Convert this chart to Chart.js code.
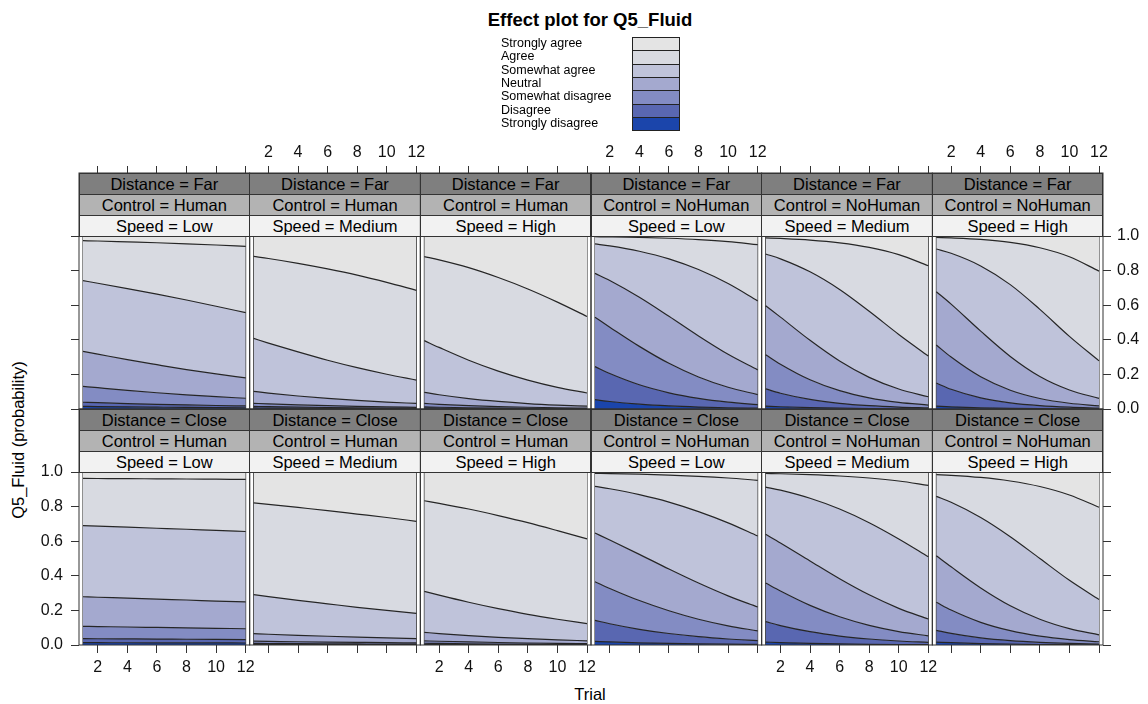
<!DOCTYPE html>
<html>
<head>
<meta charset="utf-8">
<title>Effect plot for Q5_Fluid</title>
<script src="https://cdn.jsdelivr.net/npm/chart.js@4.4.1/dist/chart.umd.min.js"></script>
<style>
  html, body { margin: 0; padding: 0; background: #fff; }
  body { width: 1148px; height: 704px; position: relative; overflow: hidden;
         font-family: "Liberation Sans", Arial, sans-serif; color: #000; }
  canvas { position: absolute; left: 0; top: 0; }
  .strip { position: absolute; box-sizing: border-box; border: 1px solid #333;
           text-align: center; font-size: 16.5px; white-space: nowrap; overflow: hidden; }
  #title { position: absolute; left: 390px; width: 400px; top: 9px; line-height: 22px;
           text-align: center; font-weight: bold; font-size: 18.5px; }
  .legLabel { position: absolute; left: 501px; font-size: 12.5px; white-space: nowrap; }
  .legBox { position: absolute; left: 632px; width: 48px; box-sizing: border-box; border: 1px solid #222; }
  #ytitle { position: absolute; left: 18px; top: 440px; white-space: nowrap; font-size: 16.5px;
            transform: translate(-50%, -50%) rotate(-90deg); }
  #xtitle { position: absolute; left: 590px; top: 694px; font-size: 16.5px;
            transform: translate(-50%, -50%); }
</style>
</head>
<body>
<div id="title">Effect plot for Q5_Fluid</div>
<div id="ytitle">Q5_Fluid (probability)</div>
<div id="xtitle">Trial</div>
<script>
// ---- facets, levels and axis ticks ----
const trials = [1, 2, 4, 6, 8, 10, 12];
const xTicks = [2, 4, 6, 8, 10, 12];
const yTicks = [0, 0.2, 0.4, 0.6, 0.8, 1.0];
const distances = ['Far', 'Close'];
const controls = ['Human', 'NoHuman'];
const speeds = ['Low', 'Medium', 'High'];
// response levels, bottom band first
const levels = ['Strongly disagree', 'Disagree', 'Somewhat disagree', 'Neutral',
                'Somewhat agree', 'Agree', 'Strongly agree'];
const bandColors = ['#1b45ab', '#5967b1', '#838cc3', '#a4a9cf', '#bfc3da', '#d8dae1', '#e4e4e4'];

// cumulative probabilities P(response <= level) at each trial, one row per
// boundary (Strongly disagree ... Agree), for each Distance/Control/Speed panel
const farHumanLow = [
  [0.015, 0.0139, 0.012, 0.0104, 0.0089, 0.0077, 0.0066],
  [0.039, 0.0364, 0.0315, 0.0272, 0.0235, 0.0202, 0.0175],
  [0.131, 0.123, 0.1075, 0.094, 0.082, 0.0714, 0.062],
  [0.333, 0.317, 0.285, 0.256, 0.228, 0.203, 0.180],
  [0.742, 0.727, 0.696, 0.664, 0.630, 0.594, 0.557],
  [0.973, 0.971, 0.966, 0.961, 0.955, 0.948, 0.940]
];
const farHumanMedium = [
  [0.006, 0.0054, 0.0043, 0.0034, 0.0027, 0.0022, 0.0018],
  [0.015, 0.0134, 0.0108, 0.0086, 0.0069, 0.0055, 0.0044],
  [0.033, 0.0296, 0.0238, 0.019, 0.0153, 0.0123, 0.0099],
  [0.102, 0.0922, 0.075, 0.0609, 0.0493, 0.0398, 0.0321],
  [0.408, 0.381, 0.330, 0.282, 0.239, 0.201, 0.167],
  [0.882, 0.870, 0.842, 0.810, 0.774, 0.732, 0.686]
];
const farHumanHigh = [
  [0.005, 0.0042, 0.003, 0.0022, 0.0015, 0.0011, 0.0008],
  [0.012, 0.0102, 0.0073, 0.0052, 0.0037, 0.0026, 0.0019],
  [0.032, 0.0272, 0.0195, 0.014, 0.010, 0.0072, 0.0051],
  [0.096, 0.0823, 0.0601, 0.0437, 0.0315, 0.0227, 0.0163],
  [0.395, 0.356, 0.282, 0.219, 0.167, 0.125, 0.0924],
  [0.881, 0.862, 0.817, 0.760, 0.694, 0.618, 0.535]
];
const farNoHumanLow = [
  [0.054, 0.0435, 0.028, 0.0179, 0.0114, 0.0072, 0.0046],
  [0.245, 0.205, 0.140, 0.0936, 0.0613, 0.0397, 0.0255],
  [0.530, 0.473, 0.362, 0.264, 0.185, 0.1255, 0.0833],
  [0.784, 0.743, 0.646, 0.536, 0.422, 0.316, 0.226],
  [0.954, 0.943, 0.912, 0.868, 0.806, 0.725, 0.625],
  [0.9958, 0.9947, 0.9917, 0.9869, 0.9795, 0.968, 0.950]
];
const farNoHumanMedium = [
  [0.017, 0.013, 0.0076, 0.0045, 0.0026, 0.0015, 0.0009],
  [0.116, 0.0911, 0.0552, 0.0329, 0.0195, 0.0114, 0.0067],
  [0.314, 0.259, 0.169, 0.106, 0.0647, 0.0388, 0.0229],
  [0.597, 0.531, 0.397, 0.2775, 0.183, 0.1154, 0.0706],
  [0.896, 0.868, 0.793, 0.691, 0.565, 0.431, 0.306],
  [0.9894, 0.986, 0.9766, 0.9604, 0.934, 0.892, 0.828]
];
const farNoHumanHigh = [
  [0.017, 0.0125, 0.0067, 0.0036, 0.0019, 0.001, 0.0005],
  [0.150, 0.114, 0.0641, 0.0352, 0.0191, 0.0103, 0.0055],
  [0.370, 0.300, 0.186, 0.1085, 0.0608, 0.0333, 0.018],
  [0.678, 0.606, 0.450, 0.304, 0.188, 0.110, 0.0618],
  [0.925, 0.900, 0.827, 0.719, 0.576, 0.420, 0.278],
  [0.992, 0.989, 0.980, 0.963, 0.932, 0.880, 0.797]
];
const closeHumanLow = [
  [0.0135, 0.0133, 0.013, 0.0126, 0.0123, 0.012, 0.0116],
  [0.0366, 0.0361, 0.0352, 0.0343, 0.0333, 0.0324, 0.0316],
  [0.108, 0.1067, 0.104, 0.1015, 0.099, 0.0965, 0.094],
  [0.279, 0.276, 0.271, 0.265, 0.260, 0.254, 0.249],
  [0.690, 0.687, 0.681, 0.675, 0.669, 0.662, 0.656],
  [0.963, 0.9625, 0.9615, 0.9604, 0.9594, 0.9583, 0.9572]
];
const closeHumanMedium = [
  [0.0035, 0.0033, 0.003, 0.0027, 0.0024, 0.0021, 0.0019],
  [0.009, 0.0085, 0.0077, 0.0069, 0.0061, 0.0055, 0.0049],
  [0.022, 0.0209, 0.0187, 0.0168, 0.0151, 0.0135, 0.0121],
  [0.0655, 0.0622, 0.0561, 0.0506, 0.0455, 0.041, 0.0369],
  [0.291, 0.280, 0.258, 0.238, 0.218, 0.200, 0.183],
  [0.821, 0.813, 0.795, 0.777, 0.757, 0.737, 0.715]
];
const closeHumanHigh = [
  [0.004, 0.0036, 0.0029, 0.0024, 0.0019, 0.0016, 0.0013],
  [0.010, 0.009, 0.0073, 0.0059, 0.0048, 0.0039, 0.0032],
  [0.024, 0.0216, 0.0176, 0.0144, 0.0117, 0.0095, 0.0077],
  [0.073, 0.0663, 0.0544, 0.0446, 0.0365, 0.0298, 0.0243],
  [0.310, 0.288, 0.247, 0.210, 0.177, 0.149, 0.124],
  [0.834, 0.819, 0.786, 0.748, 0.707, 0.661, 0.613]
];
const closeNoHumanLow = [
  [0.021, 0.0178, 0.0127, 0.0091, 0.0065, 0.0046, 0.0033],
  [0.1426, 0.123, 0.0908, 0.0664, 0.0481, 0.0347, 0.025],
  [0.366, 0.327, 0.257, 0.198, 0.149, 0.111, 0.0816],
  [0.647, 0.607, 0.524, 0.439, 0.358, 0.284, 0.220],
  [0.917, 0.903, 0.869, 0.826, 0.771, 0.706, 0.630],
  [0.9923, 0.9909, 0.9872, 0.9821, 0.9751, 0.9653, 0.952]
];
const closeNoHumanMedium = [
  [0.017, 0.0138, 0.0091, 0.006, 0.004, 0.0026, 0.0017],
  [0.135, 0.1124, 0.0768, 0.0518, 0.0347, 0.023, 0.0153],
  [0.358, 0.312, 0.229, 0.163, 0.1137, 0.0778, 0.0525],
  [0.640, 0.590, 0.486, 0.383, 0.290, 0.212, 0.150],
  [0.913, 0.895, 0.848, 0.786, 0.707, 0.613, 0.510],
  [0.9918, 0.9899, 0.9847, 0.9769, 0.9652, 0.948, 0.923]
];
const closeNoHumanHigh = [
  [0.017, 0.0132, 0.0079, 0.0047, 0.0028, 0.0017, 0.001],
  [0.085, 0.0671, 0.0411, 0.0249, 0.0151, 0.009, 0.0054],
  [0.247, 0.202, 0.131, 0.0828, 0.0511, 0.0312, 0.0188],
  [0.516, 0.452, 0.330, 0.227, 0.149, 0.0947, 0.0588],
  [0.859, 0.825, 0.737, 0.626, 0.500, 0.374, 0.263],
  [0.985, 0.981, 0.9685, 0.948, 0.916, 0.867, 0.796]
];

const panelData = [
  farHumanLow, farHumanMedium, farHumanHigh, farNoHumanLow, farNoHumanMedium, farNoHumanHigh,
  closeHumanLow, closeHumanMedium, closeHumanHigh, closeNoHumanLow, closeNoHumanMedium, closeNoHumanHigh
];

// ---- page geometry ----
const PAGE_W = 1148, PAGE_H = 704;
const GRID_LEFT = 79, GRID_RIGHT = 1103;
const ROW_TOP = [173, 409], ROW_BOTTOM = [409, 645];
const STRIP_H = 21, N_STRIPS = 3;
const COL_W = (GRID_RIGHT - GRID_LEFT) / 6;
const X_PAD = 0.27;
const AXIS_X_H = 40, AXIS_Y_W = 50;
const FONT = '"Liberation Sans", Arial, sans-serif';
const LINE = '#262626';
const stripColors = ['#7f7f7f', '#b3b3b3', '#f2f2f2'];

// outline of each panel (plot plus its strips)
const framePlugin = {
  id: 'panelFrame',
  afterDraw(chart) {
    const { ctx, chartArea: a } = chart;
    ctx.save();
    ctx.strokeStyle = '#333';
    ctx.lineWidth = 1;
    ctx.strokeRect(a.left, a.top, a.right - a.left, a.bottom - a.top);
    ctx.restore();
  }
};

function addStrips(chart, texts) {
  const a = chart.chartArea;
  const yOne = chart.scales.y.getPixelForValue(1);
  const h = (yOne - a.top) / N_STRIPS;
  texts.forEach((txt, i) => {
    const d = document.createElement('div');
    d.className = 'strip';
    d.textContent = txt;
    d.style.left = (a.left - 0.5) + 'px';
    d.style.width = (a.right - a.left + 1) + 'px';
    d.style.top = (a.top + i * h - 0.5) + 'px';
    d.style.height = (h + 1) + 'px';
    d.style.lineHeight = (h - 1) + 'px';
    d.style.background = stripColors[i];
    document.body.appendChild(d);
  });
}

panelData.forEach((bounds, p) => {
  const r = Math.floor(p / 6), c = p % 6;
  const ctl = controls[Math.floor(c / 3)], spd = speeds[c % 3];
  const left = GRID_LEFT + c * COL_W, right = left + COL_W;
  const plotH = ROW_BOTTOM[r] - ROW_TOP[r] - STRIP_H * N_STRIPS;
  const yMax = 1 + STRIP_H * N_STRIPS / plotH;

  const showXLabels = (r === 0) ? (c % 2 === 1) : (c % 2 === 0);
  const yAxisShown = (c === 0 || c === 5);
  const yLabels = (r === 0 && c === 5) || (r === 1 && c === 0);

  const canvas = document.createElement('canvas');
  canvas.width = PAGE_W; canvas.height = PAGE_H;
  document.body.appendChild(canvas);

  const curves = bounds.concat([trials.map(() => 1)]);
  const datasets = curves.map((vals, k) => ({
    label: levels[k],
    data: trials.map((t, i) => ({ x: t, y: vals[i] })),
    fill: k === 0 ? 'origin' : '-1',
    backgroundColor: bandColors[k],
    borderColor: LINE,
    borderWidth: k === curves.length - 1 ? 0 : 1.2,
    pointRadius: 0,
    cubicInterpolationMode: 'monotone'
  }));
  // outline of the band polygons at the first and last trial
  [trials[0], trials[trials.length - 1]].forEach(t => {
    datasets.push({
      data: [{ x: t, y: 0 }, { x: t, y: 1 }],
      fill: false, borderColor: LINE, borderWidth: 1, pointRadius: 0
    });
  });

  const chart = new Chart(canvas, {
    type: 'line',
    data: { datasets },
    options: {
      responsive: false,
      animation: false,
      devicePixelRatio: 1,
      layout: {
        padding: {
          left: left - (c === 0 ? AXIS_Y_W : 0),
          right: PAGE_W - right - (c === 5 ? AXIS_Y_W : 0),
          top: ROW_TOP[r] - (r === 0 ? AXIS_X_H : 0),
          bottom: PAGE_H - ROW_BOTTOM[r] - (r === 1 ? AXIS_X_H : 0)
        }
      },
      plugins: { legend: { display: false }, tooltip: { enabled: false } },
      scales: {
        x: {
          type: 'linear',
          position: r === 0 ? 'top' : 'bottom',
          bounds: 'data',
          min: trials[0] - X_PAD,
          max: trials[trials.length - 1] + X_PAD,
          afterBuildTicks: axis => { axis.ticks = xTicks.map(v => ({ value: v })); },
          afterFit: axis => { axis.height = AXIS_X_H; axis.paddingLeft = 0; axis.paddingRight = 0; },
          border: { display: false },
          grid: { drawOnChartArea: false, drawTicks: true, tickLength: r === 0 ? 7 : 8, color: '#333', lineWidth: 1 },
          ticks: {
            autoSkip: false, maxRotation: 0, padding: r === 0 ? 4 : 5,
            color: '#111', font: { family: FONT, size: 16 },
            callback: v => showXLabels ? String(v) : ''
          }
        },
        y: {
          type: 'linear',
          display: yAxisShown,
          position: c === 5 ? 'right' : 'left',
          bounds: 'data',
          min: 0,
          max: yMax,
          afterBuildTicks: axis => { axis.ticks = yTicks.map(v => ({ value: v })); },
          afterFit: axis => { if (yAxisShown) { axis.width = AXIS_Y_W; } axis.paddingTop = 0; axis.paddingBottom = 0; },
          border: { display: false },
          grid: { drawOnChartArea: false, drawTicks: true, tickLength: 8, color: '#333', lineWidth: 1 },
          ticks: {
            padding: c === 5 ? 6 : 8,
            color: '#111', font: { family: FONT, size: 16 },
            callback: v => yLabels ? Number(v).toFixed(1) : ''
          }
        }
      }
    },
    plugins: [framePlugin]
  });

  addStrips(chart, ['Distance = ' + distances[r], 'Control = ' + ctl, 'Speed = ' + spd]);
});

// ---- key: labels on the left, stacked colour boxes on the right (top level first) ----
const KEY_TOP = 37, KEY_ROW = 13.3;
levels.slice().reverse().forEach((name, i) => {
  const y0 = Math.round(KEY_TOP + i * KEY_ROW);
  const y1 = Math.round(KEY_TOP + (i + 1) * KEY_ROW);
  const lab = document.createElement('div');
  lab.className = 'legLabel';
  lab.textContent = name;
  lab.style.top = (KEY_TOP + i * KEY_ROW) + 'px';
  lab.style.lineHeight = KEY_ROW + 'px';
  document.body.appendChild(lab);
  const box = document.createElement('div');
  box.className = 'legBox';
  box.style.top = y0 + 'px';
  box.style.height = (y1 - y0 + 1) + 'px';
  box.style.background = bandColors[levels.length - 1 - i];
  document.body.appendChild(box);
});
</script>
</body>
</html>
